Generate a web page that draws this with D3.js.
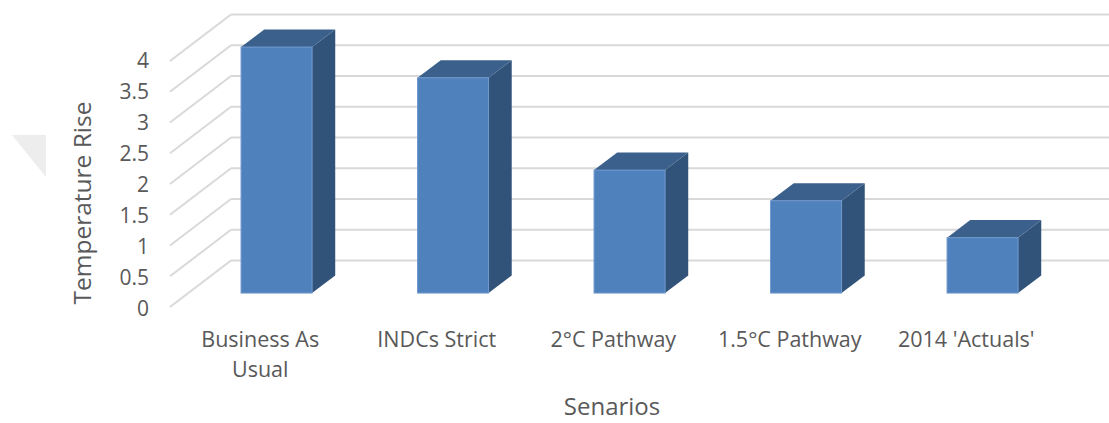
<!DOCTYPE html>
<html>
<head>
<meta charset="utf-8">
<script src="https://cdn.jsdelivr.net/npm/d3@7"></script>
<style>
  html, body { margin: 0; padding: 0; background: #fff; }
  svg { display: block; }
  text { font-family: "Open Sans", "Noto Sans", sans-serif; fill: #595959; }
</style>
</head>
<body>
<svg id="chart" width="1109" height="423"></svg>
<script>
// Scenario data
const categories = ["Business As Usual", "INDCs Strict", "2°C Pathway", "1.5°C Pathway", "2014 'Actuals'"];
const categoryLines = [["Business As", "Usual"], ["INDCs Strict"], ["2°C Pathway"], ["1.5°C Pathway"], ["2014 'Actuals'"]];
const temperatureRise = [4.0, 3.5, 2.0, 1.5, 0.9];
const yTicks = [0, 0.5, 1, 1.5, 2, 2.5, 3, 3.5, 4];
const yTickLabels = ["0", "0.5", "1", "1.5", "2", "2.5", "3", "3.5", "4"];
const xTitle = "Senarios";
const yTitle = "Temperature Rise";

const svg = d3.select("#chart");

// Oblique projection: depth d in [0,1] runs from the front floor edge to the back wall
const depthDx = 61, depthDy = -46.5;
const barFront = 0.30, barBack = 0.68;
const proj = (x, y, d) => [x + depthDx * d, y + depthDy * d];

// Scales on the front floor edge
const x = d3.scaleBand().domain(categories).range([170, 170 + 5 * 176.5]).padding(0);
const y = d3.scaleLinear().domain([0, 4]).range([307, 61]);

// Soft grey marker at the far left
svg.append("polygon")
  .attr("points", [[12, 135], [46, 135], [46, 177]].map(p => p.join(",")).join(" "))
  .attr("fill", "#ededed");

// Gridlines: back wall horizontals plus the receding side-wall diagonals
const grid = svg.append("g").attr("stroke", "#d9d9d9").attr("stroke-width", 2).attr("fill", "none");
yTicks.forEach(v => {
  const [bx, by] = proj(170, y(v), 1);
  grid.append("line").attr("x1", bx).attr("y1", by).attr("x2", 1109).attr("y2", by);
  grid.append("line").attr("x1", 170).attr("y1", y(v)).attr("x2", bx).attr("y2", by);
});

// Y tick labels
svg.append("g").selectAll("text").data(yTicks).join("text")
  .attr("x", 149)
  .attr("y", v => y(v) + 2 * (4 - v) / 4)
  .attr("dy", "0.35em")
  .attr("text-anchor", "end")
  .attr("font-size", 21)
  .text((v, i) => yTickLabels[i]);

// Bars as prisms: right side face, top face, front face
const barW = 71;
const bars = svg.append("g");
categories.forEach((c, i) => {
  const cx = x(c) + x.bandwidth() / 2;
  const [fx, fyBot] = proj(cx - barW / 2, y(0), barFront);
  const fyTop = proj(0, y(temperatureRise[i]), barFront)[1];
  const ddx = depthDx * (barBack - barFront), ddy = depthDy * (barBack - barFront);
  const g = bars.append("g");
  g.append("polygon")
    .attr("points", [[fx + barW, fyTop], [fx + barW + ddx, fyTop + ddy], [fx + barW + ddx, fyBot + ddy], [fx + barW, fyBot]].map(p => p.join(",")).join(" "))
    .attr("fill", "#325379");
  g.append("polygon")
    .attr("points", [[fx, fyTop], [fx + ddx, fyTop + ddy], [fx + barW + ddx, fyTop + ddy], [fx + barW, fyTop]].map(p => p.join(",")).join(" "))
    .attr("fill", "#3b608c");
  g.append("rect")
    .attr("x", fx).attr("y", fyTop)
    .attr("width", barW).attr("height", fyBot - fyTop)
    .attr("fill", "#4f81bd")
    .attr("stroke", "#6f98cc").attr("stroke-width", 1);
});

// Category labels along the front floor edge
const catG = svg.append("g");
categories.forEach((c, i) => {
  const cx = x(c) + x.bandwidth() / 2 + 2;
  const t = catG.append("text")
    .attr("x", cx)
    .attr("y", 347)
    .attr("text-anchor", "middle")
    .attr("font-size", 21.5);
  categoryLines[i].forEach((ln, j) => {
    t.append("tspan").attr("x", cx).attr("dy", j === 0 ? 0 : 30).text(ln);
  });
});

// Axis titles
svg.append("text")
  .attr("x", 612).attr("y", 415)
  .attr("text-anchor", "middle")
  .attr("font-size", 24)
  .text(xTitle);

svg.append("text")
  .attr("transform", "translate(91,203) rotate(-90)")
  .attr("text-anchor", "middle")
  .attr("font-size", 24.5)
  .text(yTitle);
</script>
</body>
</html>
